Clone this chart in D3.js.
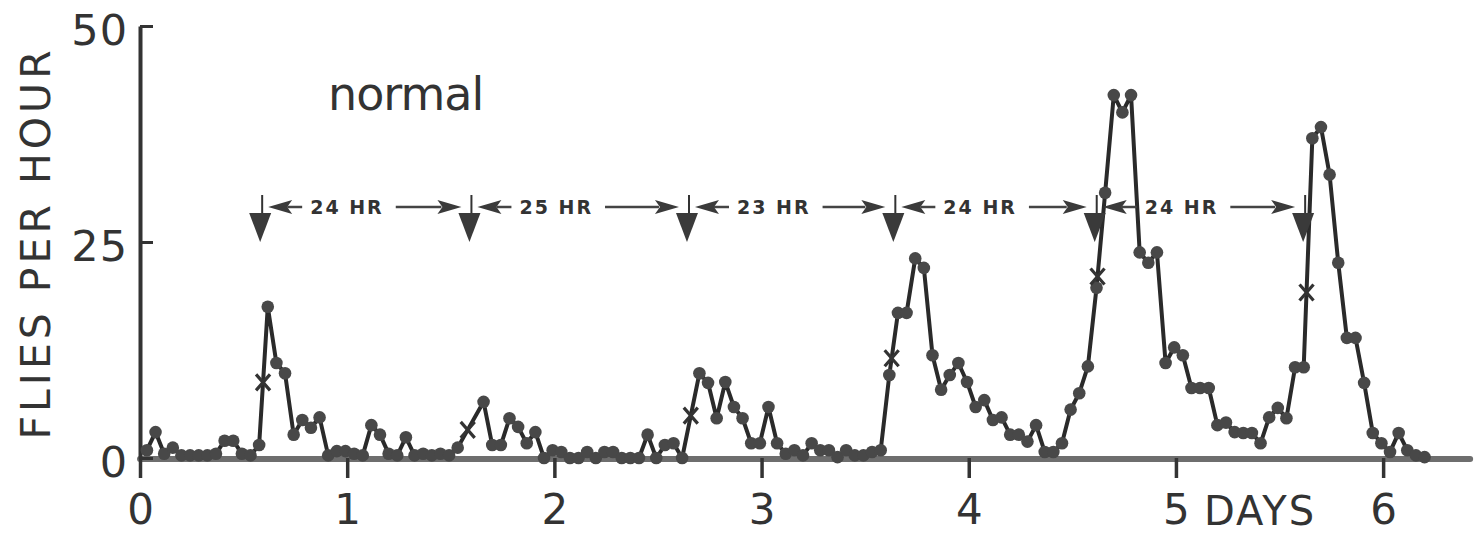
<!DOCTYPE html>
<html>
<head>
<meta charset="utf-8">
<script src="https://cdn.jsdelivr.net/npm/d3@7"></script>
<style>
  body { margin: 0; background: #fff; }
  svg { display: block; }
  text { font-family: "DejaVu Sans", sans-serif; fill: #333; }
</style>
</head>
<body>
<script>
// flies per hour, one value per hourly bin (null = no point plotted)
const flies = [
  0.9, 3, 0.5, 1.2, 0.3, 0.3, 0.3, 0.3, 0.5, 2, 2, 0.5, 0.3, 1.5, 17.5, 11, 9.8, 2.7, 4.4, 3.5, 4.7, 0.3, 0.8, 0.8,
  0.5, 0.3, 3.8, 2.7, 0.5, 0.3, 2.4, 0.3, 0.5, 0.3, 0.5, 0.3, 1.2, null, null, 6.5, 1.5, 1.5, 4.6, 3.6, 1.7, 3, 0, 0.9,
  0.7, 0, 0, 0.7, 0, 0.7, 0.7, 0, 0, 0, 2.7, 0, 1.5, 1.7, 0, null, 9.8, 8.7, 4.6, 8.8, 5.9, 4.6, 1.7, 1.7,
  5.9, 1.7, 0.5, 0.9, 0.3, 1.7, 0.9, 0.9, 0.1, 0.9, 0.3, 0.3, 0.7, 0.9, 9.6, 16.8, 16.8, 23.1, 22, 11.9, 7.9, 9.6, 11, 8.8,
  5.9, 6.7, 4.4, 4.7, 2.7, 2.7, 1.9, 3.8, 0.7, 0.7, 1.7, 5.6, 7.5, 10.6, 19.7, 30.7, 42, 40, 42, 23.8, 22.6, 23.8, 11, 12.8,
  11.9, 8.1, 8.1, 8.1, 3.8, 4.1, 3, 2.9, 2.9, 1.7, 4.7, 5.8, 4.6, 10.5, 10.5, 37, 38.3, 32.8, 22.6, 13.9, 13.9, 8.7, 2.9, 1.7,
  0.7, 2.9, 0.9, 0.3, 0.1
];
const hourOffset = 0.8;   // first bin starts a bit after day 0

// onset arrows (days) and the periods written between them
const arrowDays = [0.58, 1.59, 2.64, 3.636, 4.608, 5.614];
const periodLabels = ["24 HR", "25 HR", "23 HR", "24 HR", "24 HR"];

const xTicks = [0, 1, 2, 3, 4, 5, 6];
const yTicks = [0, 25, 50];

var width = 1475, height = 548;

var svg = d3.select("body").append("svg")
    .attr("width", width)
    .attr("height", height);

var x = d3.scaleLinear().domain([0, 6.4]).range([140, 1466]);
var y = d3.scaleLinear().domain([0, 50]).range([458, 26]);

var points = flies.map((v, i) => ({ i: i, day: (i + hourOffset) / 24, v: v }))
    .filter(d => d.v !== null);

// x baseline (thick grey rule)
svg.append("line")
    .attr("x1", x(0)).attr("x2", x(6.42))
    .attr("y1", y(0) + 1).attr("y2", y(0) + 1)
    .attr("stroke", "#6e6e6e")
    .attr("stroke-width", 6)
    .attr("stroke-linecap", "round");

// x axis ticks + labels
svg.append("g")
    .attr("transform", "translate(0," + y(0) + ")")
    .call(d3.axisBottom(x).tickValues(xTicks).tickSize(20).tickPadding(16).tickFormat(d3.format("d")))
    .call(g => g.select(".domain").remove())
    .call(g => g.selectAll("line").attr("stroke", "#333").attr("stroke-width", 3.5))
    .call(g => g.selectAll("text").style("font-size", "42px"));

// y axis, ticks point inward
svg.append("g")
    .attr("transform", "translate(" + x(0) + ",0)")
    .call(d3.axisLeft(y).tickValues(yTicks).tickSizeInner(-13).tickSizeOuter(0).tickPadding(12))
    .call(g => g.select(".domain").attr("stroke", "#333").attr("stroke-width", 4))
    .call(g => g.selectAll("line").attr("stroke", "#333").attr("stroke-width", 3))
    .call(g => g.selectAll("text").style("font-size", "43px").style("letter-spacing", "1px").attr("dy", "0.42em"));

// axis titles
svg.append("text")
    .attr("transform", "translate(50,243) rotate(-90)")
    .attr("text-anchor", "middle")
    .style("font-size", "41px")
    .style("letter-spacing", "4px")
    .text("FLIES PER HOUR");

svg.append("text")
    .attr("x", x(5) + 28)
    .attr("y", 525)
    .style("font-size", "40px")
    .style("letter-spacing", "2px")
    .text("DAYS");

svg.append("text")
    .attr("x", 328)
    .attr("y", 110)
    .style("font-size", "46px")
    .style("letter-spacing", "-1px")
    .text("normal");

// data line + dots
var line = d3.line()
    .x(d => x(d.day))
    .y(d => y(d.v));

svg.append("path")
    .datum(points)
    .attr("fill", "none")
    .attr("stroke", "#2a2a2a")
    .attr("stroke-width", 4)
    .attr("stroke-linejoin", "round")
    .attr("d", line);

svg.selectAll("dots")
    .data(points)
    .enter()
    .append("circle")
    .attr("cx", d => x(d.day))
    .attr("cy", d => y(d.v))
    .attr("r", 6.3)
    .attr("fill", "#484848");

// half-max crossing on each rising limb, marked with an X
var byIndex = {};
points.forEach(p => { byIndex[p.i] = p; });
var onsets = arrowDays.map(a => {
    var c = Math.round(a * 24 - hourOffset);
    var win = points.filter(p => p.i >= c - 3 && p.i <= c + 8);
    var peak = win.reduce((m, p) => p.v > m.v ? p : m, win[0]);
    var half = peak.v / 2;
    var k = peak, j = null;
    for (var n = peak.i - 1; n >= 0; n--) {
        if (!byIndex[n]) continue;
        if (byIndex[n].v < half) { j = byIndex[n]; break; }
        k = byIndex[n];
    }
    var t = (half - j.v) / (k.v - j.v);
    return { day: j.day + t * (k.day - j.day), v: half };
});

var cross = svg.selectAll("onset")
    .data(onsets)
    .enter()
    .append("g")
    .attr("transform", d => "translate(" + x(d.day) + "," + y(d.v) + ")");
cross.append("path")
    .attr("d", "M-7,-8L7,8M7,-8L-7,8")
    .attr("stroke", "#333")
    .attr("stroke-width", 3.2);

// down arrows marking onsets
var rowY = 207;
var down = svg.selectAll("downArrow")
    .data(arrowDays)
    .enter()
    .append("g")
    .attr("transform", d => "translate(" + x(d) + ",0)");
down.append("line")
    .attr("x1", 2).attr("x2", 2)
    .attr("y1", rowY - 12).attr("y2", rowY + 8)
    .attr("stroke", "#333").attr("stroke-width", 2);
down.append("path")
    .attr("d", "M-11," + (rowY + 6) + "L11," + (rowY + 6) + "L0," + (rowY + 35) + "Z")
    .attr("fill", "#3a3a3a");

// period brackets between arrows
periodLabels.forEach((lab, k) => {
    var ax = x(arrowDays[k]), bx = x(arrowDays[k + 1]);
    var g = svg.append("g");
    var txt = g.append("text")
        .attr("x", ax + 50)
        .attr("y", rowY + 7)
        .style("font-size", "19px")
        .style("font-weight", "bold")
        .style("letter-spacing", "2px")
        .text(lab);
    var tw = txt.node().getComputedTextLength();
    g.append("path")
        .attr("d", "M" + (ax + 8) + "," + rowY + "L" + (ax + 32) + "," + (rowY - 7) +
            "L" + (ax + 27) + "," + rowY + "L" + (ax + 32) + "," + (rowY + 7) + "Z")
        .attr("fill", "#3a3a3a");
    g.append("line")
        .attr("x1", ax + 27).attr("x2", ax + 42)
        .attr("y1", rowY).attr("y2", rowY)
        .attr("stroke", "#444").attr("stroke-width", 2.5);
    g.append("line")
        .attr("x1", ax + 50 + tw + 12).attr("x2", bx - 28)
        .attr("y1", rowY).attr("y2", rowY)
        .attr("stroke", "#444").attr("stroke-width", 2.5);
    g.append("path")
        .attr("d", "M" + (bx - 8) + "," + rowY + "L" + (bx - 32) + "," + (rowY - 7) +
            "L" + (bx - 27) + "," + rowY + "L" + (bx - 32) + "," + (rowY + 7) + "Z")
        .attr("fill", "#3a3a3a");
});
</script>
</body>
</html>
